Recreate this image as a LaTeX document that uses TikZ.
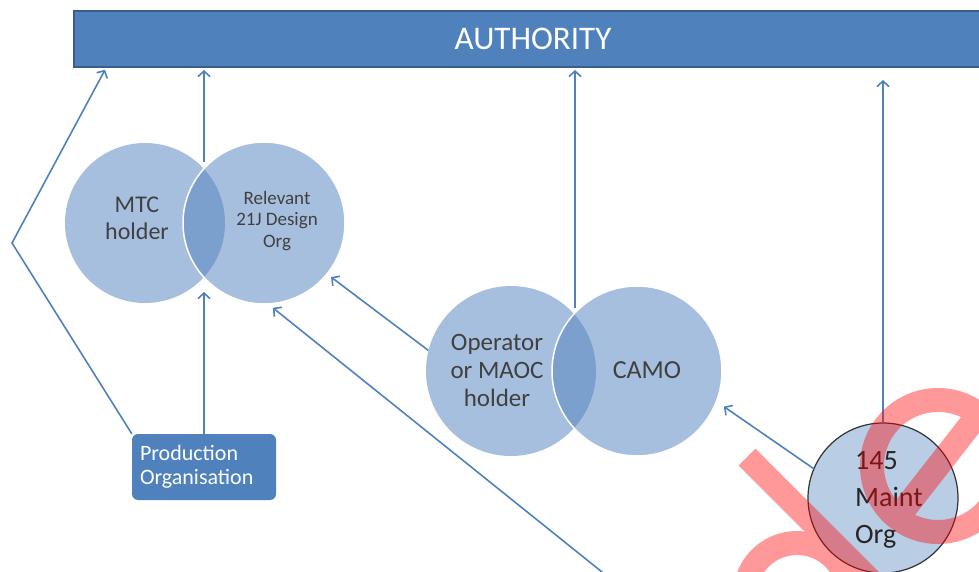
\documentclass[tikz,border=0pt]{standalone}
\usepackage{fontspec}
\setmainfont{Carlito}
\usepackage{tikz}
\usetikzlibrary{arrows,arrows.meta,shapes}
\definecolor{authblue}{HTML}{4F81BD}
\definecolor{authedge}{HTML}{385D8A}
\definecolor{vennblue}{HTML}{A7BFDE}
\definecolor{lensblue}{HTML}{7BA0CD}
\definecolor{maintblue}{HTML}{B9CDE5}
\definecolor{darktext}{HTML}{404040}
\tikzstyle{authority}=[rectangle,fill=authblue,draw=authedge,line width=2pt,text=white,minimum width=918pt,minimum height=56pt,inner sep=0pt,font=\fontsize{33}{36}\selectfont]
\tikzstyle{venn}=[circle,fill=vennblue,inner sep=0pt]
\tikzstyle{venn text}=[align=center,text=darktext,inner sep=0pt]
\tikzstyle{maint}=[circle,fill=maintblue,draw=black!80,line width=1.2pt,minimum size=150pt,inner sep=0pt]
\tikzstyle{org box}=[rectangle,rounded corners=6pt,fill=authblue,text=white,align=left,text width=128pt,inner xsep=8pt,minimum height=66pt,font=\fontsize{22}{24}\selectfont]
\tikzstyle{link}=[draw=authblue,line width=1.6pt,->,>={Straight Barb[length=5.5pt,width=12pt]},shorten >=2pt]
\tikzstyle{stamp}=[draw=red,line width=24pt]

\begin{document}
\begin{tikzpicture}[x=1pt,y=-1pt]
    \clip (0,0) rectangle (979,572);
    \node[authority] (auth) at (533,39) {AUTHORITY};
    % venn pairs
    \node[venn,minimum size=160pt] (mtc) at (145,223) {};
    \node[venn,minimum size=162pt] (rel) at (264,223) {};
    \begin{scope}
        \clip (mtc.center) circle (80pt);
        \fill[lensblue] (rel.center) circle (81pt);
    \end{scope}
    \draw[white,line width=1.5pt] (rel.center) circle (81pt);
    \node[venn,minimum size=170pt] (op) at (511,371) {};
    \node[venn,minimum size=170pt] (camo) at (637,371) {};
    \begin{scope}
        \clip (op.center) circle (85pt);
        \fill[lensblue] (camo.center) circle (85pt);
    \end{scope}
    \draw[white,line width=1.5pt] (camo.center) circle (85pt);
    \node[venn text,font=\fontsize{24}{27}\selectfont] (mtc-t) at (137,218) {MTC\\holder};
    \node[venn text,font=\fontsize{19}{21.5}\selectfont] (rel-t) at (277,221) {Relevant\\21J Design\\Org};
    \node[venn text,font=\fontsize{25}{28}\selectfont] (op-t) at (497,370) {Operator\\or MAOC\\holder};
    \node[venn text,font=\fontsize{26}{28}\selectfont] (camo-t) at (647,370) {CAMO};
    \node[org box] (prod) at (204,467) {Production\\Organisation};
    \node[maint] (mo) at (883,498) {};
    \node[align=left,anchor=west,inner sep=0pt,text=black!85,font=\fontsize{28}{37}\selectfont] (mo-t) at (855,500) {145\\Maint\\Org};
    % connectors
    \coordinate (bend) at (12,243);
    \coordinate (auth-left) at (106,68);
    \coordinate (mtcrel-top) at (204,162);
    \coordinate (mtcrel-bot) at (204,290);
    \coordinate (opcamo-top) at (575,308);
    \coordinate (mo-up) at (883,78);
    \coordinate (far-end) at (612,580);
    \draw[link] (prod.north west) -- (bend) -- (auth-left);
    \foreach \source in {mtcrel-top, opcamo-top}
        \draw[link] (\source) -- (\source |- auth.south);
    \draw[link] (prod.north) -- (mtcrel-bot);
    \draw[link] (mo.north) -- (mo-up);
    \draw[link,shorten >=5pt] (op.166) -- (rel.-39);
    \draw[link,shorten >=6pt] (far-end) -- (rel.-87);
    \draw[link,shorten >=9pt] (mo.157) -- (camo.-21);
    % stamp
    \begin{scope}[transparency group,opacity=0.4]
        \draw[stamp] (747,457) -- (872,582);
        \draw[stamp] (938,466) ++(-52:66) arc[start angle=-52,end angle=-325,radius=66];
        \draw[stamp] (938,466) ++(128:66) -- ++(-52:132);
        \draw[stamp] (797,595) circle (52pt);
    \end{scope}
\end{tikzpicture}
\end{document}
